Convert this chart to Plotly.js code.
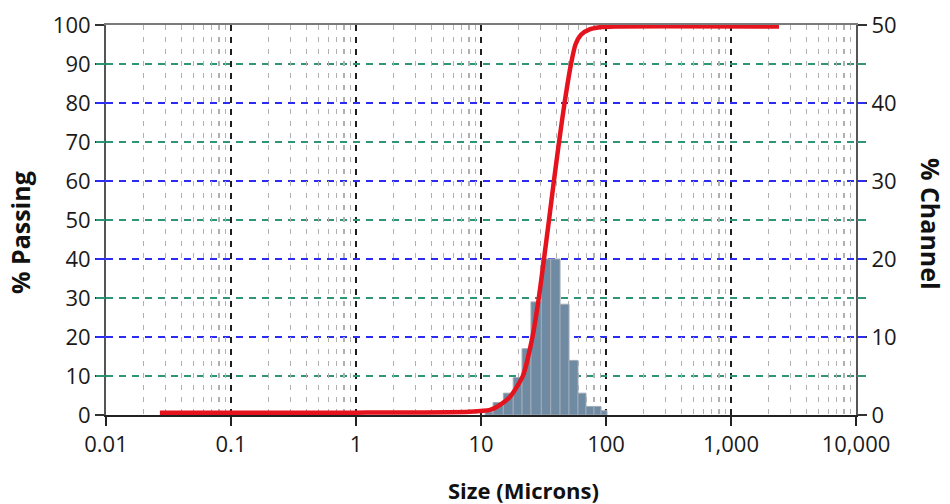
<!DOCTYPE html>
<html>
<head>
<meta charset="utf-8">
<script src="https://cdn.plot.ly/plotly-3.0.1.min.js"></script>
<style>html,body{margin:0;padding:0;background:#fff;}#chart{width:950px;height:504px;}</style>
</head>
<body>
<div id="chart"></div>
<script>
// ---- data ----
const decades = [0.01, 0.1, 1, 10, 100, 1000, 10000];
const decadeLabels = ['0.01', '0.1', '1', '10', '100', '1,000', '10,000'];
const passingTicks = [0, 10, 20, 30, 40, 50, 60, 70, 80, 90, 100];
const channelTicks = [0, 10, 20, 30, 40, 50];
const oddPassing = [10, 30, 50, 70, 90];
const evenPassing = [20, 40, 60, 80];
const minorMultipliers = [2, 3, 4, 5, 6, 7, 8, 9];

// histogram channel edges (microns) and % in each channel
const binEdges = [10.8, 12.5, 15.1, 18.1, 21.3, 25.1, 30.4, 36.1, 42.9, 50.6, 59.7, 69.2, 80.2, 91.2, 101.9];
const channelPct = [0.4, 1.6, 2.8, 4.8, 8.5, 14.5, 20.0, 20.0, 14.2, 7.0, 2.8, 1.1, 1.1, 0.55];

// cumulative % passing curve
const curveSize    = [0.027, 1, 8.2, 11.8, 14.2, 17.1, 21.6, 25.8, 29.0, 31.9, 35.0, 38.3, 42.1, 46.6, 52.5, 57.0, 63.1, 73.1, 89.5, 118, 2420];
const curvePassing = [0.6, 0.6, 0.85, 1.3, 2.6, 4.7, 10, 20, 30, 40, 50, 60, 70, 80, 90, 95, 97.5, 98.8, 99.4, 99.6, 99.6];

// ---- derived ----
const minorTicks = [];
decades.slice(0, -1).forEach(d => minorMultipliers.forEach(m => minorTicks.push(d * m)));
const barX = channelPct.map((_, i) => (Math.log10(binEdges[i]) + Math.log10(binEdges[i + 1])) / 2);
const barW = channelPct.map((_, i) => Math.log10(binEdges[i + 1]) - Math.log10(binEdges[i]));
const logRange = [Math.log10(decades[0]), Math.log10(decades[decades.length - 1])];

const FONT = 'Open Sans, Liberation Sans, sans-serif';
const tickFont = {family: FONT, size: 22, color: '#1a1a1a'};
const GREEN = '#2e9676';
const BLUE = '#2b2bf2';

const traces = [
  // empty helper traces so the grid-only axes get drawn
  {type: 'scatter', mode: 'lines', x: [], y: [], xaxis: 'x3', yaxis: 'y2', hoverinfo: 'skip', showlegend: false},
  {type: 'scatter', mode: 'lines', x: [], y: [], xaxis: 'x2', yaxis: 'y3', hoverinfo: 'skip', showlegend: false},
  {type: 'scatter', mode: 'lines', x: [], y: [], xaxis: 'x2', yaxis: 'y4', hoverinfo: 'skip', showlegend: false},
  {
    type: 'bar', x: barX, y: channelPct, width: barW,
    xaxis: 'x', yaxis: 'y',
    marker: {color: '#6f8aa3', line: {color: '#a3abb4', width: 1}},
    hoverinfo: 'skip', showlegend: false
  },
  {
    type: 'scatter', mode: 'lines', x: curveSize, y: curvePassing,
    xaxis: 'x2', yaxis: 'y2',
    line: {color: '#e5131d', width: 4.5, shape: 'spline', smoothing: 0.6},
    hoverinfo: 'skip', showlegend: false
  }
];

const layout = {
  width: 950, height: 504,
  margin: {l: 106, r: 94, t: 25, b: 89, pad: 0},
  paper_bgcolor: '#ffffff', plot_bgcolor: '#ffffff',
  showlegend: false,
  bargap: 0,
  font: {family: FONT, color: '#1a1a1a'},
  // hidden linear axis (log10 of size) for the histogram
  xaxis: {range: logRange, visible: false, fixedrange: true},
  // right axis: % Channel
  yaxis: {
    side: 'right', range: [0, 50], tickmode: 'array', tickvals: channelTicks,
    showgrid: false, zeroline: false, ticks: 'outside', ticklen: 9, tickwidth: 1.5, tickcolor: '#333',
    showline: true, linecolor: '#555', linewidth: 2, tickfont: tickFont, fixedrange: true
  },
  // visible log size axis
  xaxis2: {
    type: 'log', overlaying: 'x', anchor: 'y2', range: logRange,
    tickmode: 'array', tickvals: decades, ticktext: decadeLabels,
    showgrid: true, gridcolor: '#1e1e1e', gridwidth: 1.6, griddash: '6px,6px',
    ticks: 'outside', ticklen: 9, tickcolor: '#222', tickwidth: 1.5,
    showline: true, linecolor: '#222', linewidth: 2,
    zeroline: false, tickfont: tickFont, fixedrange: true
  },
  // minor vertical grid + top border
  xaxis3: {
    type: 'log', overlaying: 'x', anchor: 'y2', side: 'top', range: logRange,
    tickmode: 'array', tickvals: minorTicks, showticklabels: false, ticks: '',
    showgrid: true, gridcolor: '#b0b0b0', gridwidth: 1.4, griddash: '5px,7px',
    showline: true, linecolor: '#7a7a7a', linewidth: 2, zeroline: false, fixedrange: true
  },
  // left axis: % Passing
  yaxis2: {
    overlaying: 'y', side: 'left', anchor: 'x2', range: [0, 100],
    tickmode: 'array', tickvals: passingTicks,
    showgrid: false, zeroline: false, ticks: 'outside', ticklen: 9, tickwidth: 1.5, tickcolor: '#333',
    showline: true, linecolor: '#555', linewidth: 2, tickfont: tickFont, fixedrange: true
  },
  // green horizontal grid
  yaxis3: {
    overlaying: 'y', side: 'left', anchor: 'x2', range: [0, 100],
    tickmode: 'array', tickvals: oddPassing, showticklabels: false,
    ticks: 'outside', ticklen: 9, tickwidth: 1.5, tickcolor: GREEN, mirror: 'ticks',
    showgrid: true, gridcolor: GREEN, gridwidth: 1.5, griddash: '7px,6px',
    zeroline: false, showline: false, fixedrange: true
  },
  // blue horizontal grid
  yaxis4: {
    overlaying: 'y', side: 'left', anchor: 'x2', range: [0, 100],
    tickmode: 'array', tickvals: evenPassing, showticklabels: false,
    ticks: 'outside', ticklen: 9, tickwidth: 1.5, tickcolor: BLUE, mirror: 'ticks',
    showgrid: true, gridcolor: BLUE, gridwidth: 1.5, griddash: '7px,6px',
    zeroline: false, showline: false, fixedrange: true
  },
  annotations: [
    {text: '<b>Size (Microns)</b>', xref: 'paper', yref: 'paper', x: 0.557, y: -0.192,
     xanchor: 'center', yanchor: 'middle', showarrow: false,
     font: {family: FONT, size: 22, color: '#111'}},
    {text: '<b>% Passing</b>', xref: 'paper', yref: 'paper', x: -0.1147, y: 0.469,
     xanchor: 'center', yanchor: 'middle', showarrow: false, textangle: -90,
     font: {family: FONT, size: 25, color: '#111'}},
    {text: '<b>% Channel</b>', xref: 'paper', yref: 'paper', x: 1.1, y: 0.49,
     xanchor: 'center', yanchor: 'middle', showarrow: false, textangle: 90,
     font: {family: FONT, size: 25, color: '#111'}}
  ]
};

Plotly.newPlot('chart', traces, layout, {staticPlot: true, displayModeBar: false});
</script>
</body>
</html>
